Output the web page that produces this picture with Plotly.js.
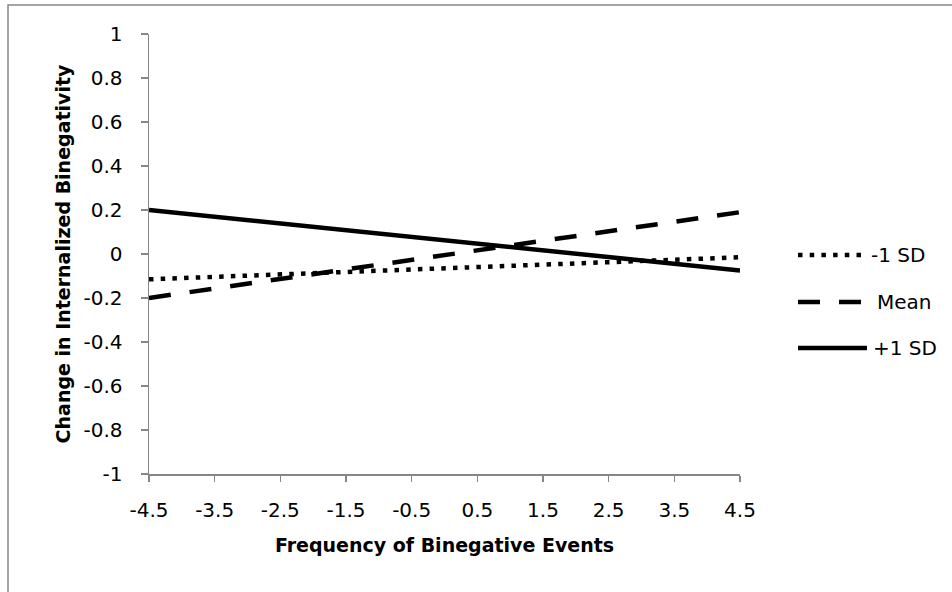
<!DOCTYPE html>
<html>
<head>
<meta charset="utf-8">
<script src="https://cdn.plot.ly/plotly-3.0.1.min.js"></script>
<style>html,body{margin:0;padding:0;background:#fff;}#chart{width:952px;height:592px;}</style>
</head>
<body>
<div id="chart"></div>
<script>
// Data
var seriesNames = ["-1 SD", "Mean", "+1 SD"];
var xVals = [-4.5, 4.5];
var minus1SD = [-0.115, -0.015];
var meanVals = [-0.20, 0.19];
var plus1SD = [0.20, -0.075];
var xTickVals = [-4.5, -3.5, -2.5, -1.5, -0.5, 0.5, 1.5, 2.5, 3.5, 4.5];
var xTickText = ["-4.5", "-3.5", "-2.5", "-1.5", "-0.5", "0.5", "1.5", "2.5", "3.5", "4.5"];
var yTickVals = [-1, -0.8, -0.6, -0.4, -0.2, 0, 0.2, 0.4, 0.6, 0.8, 1];
var yTickText = ["-1", "-0.8", "-0.6", "-0.4", "-0.2", "0", "0.2", "0.4", "0.6", "0.8", "1"];

var FONT = "'DejaVu Sans', sans-serif";
var AXC = "#868686";
var dashes = ["4.5px,7.2px", "22px,19px", "solid"];
var widths = [4.5, 4.5, 4.5];
var ys = [minus1SD, meanVals, plus1SD];

var traces = ys.map(function (y, i) {
  return {
    x: xVals, y: y, name: seriesNames[i], type: "scatter", mode: "lines",
    line: {color: "#000", width: widths[i], dash: dashes[i]},
    showlegend: false, hoverinfo: "skip"
  };
});

// Manual legend (Excel-like long samples)
var L = 149, R = 740, T = 34, B = 474;
function px2x(p) { return (p - L) / (R - L); }
function px2y(p) { return (B - p) / (B - T); }
var legY = [255, 302, 348];
var shapes = [{
  type: "rect", xref: "paper", yref: "paper",
  x0: px2x(8), x1: px2x(1000), y0: px2y(5), y1: px2y(700),
  line: {color: AXC, width: 1.5}, fillcolor: "rgba(0,0,0,0)", layer: "below"
}];
var annotations = [];
seriesNames.forEach(function (n, i) {
  shapes.push({
    type: "line", xref: "paper", yref: "paper",
    x0: px2x(798), x1: px2x(867), y0: px2y(legY[i]), y1: px2y(legY[i]),
    line: {color: "#000", width: widths[i], dash: dashes[i]}
  });
  annotations.push({
    xref: "paper", yref: "paper", x: px2x(i === 0 ? 869 : (i === 1 ? 875 : 871)), y: px2y(legY[i]),
    xanchor: "left", yanchor: "middle", text: n, showarrow: false,
    font: {family: FONT, size: 20, color: "#000"}
  });
});

var layout = {
  width: 952, height: 592,
  margin: {l: L, r: 952 - R, t: T, b: 592 - B, pad: 0},
  paper_bgcolor: "#fff", plot_bgcolor: "#fff",
  font: {family: FONT, size: 20, color: "#000"},
  showlegend: false,
  xaxis: {
    range: [-4.5, 4.5], tickvals: xTickVals, ticktext: xTickText,
    showgrid: false, zeroline: false, showline: true, linecolor: AXC, linewidth: 1.5,
    ticks: "outside", ticklen: 6, tickcolor: AXC, tickwidth: 1.5,
    ticklabelstandoff: 11, automargin: false,
    tickfont: {family: FONT, size: 20, color: "#000"},
    title: {text: "<b>Frequency of Binegative Events</b>", standoff: 18,
            font: {family: FONT, size: 19, color: "#000"}}
  },
  yaxis: {
    range: [-1, 1], tickvals: yTickVals, ticktext: yTickText,
    showgrid: false, zeroline: false, showline: true, linecolor: AXC, linewidth: 1.5,
    ticks: "outside", ticklen: 7, tickcolor: AXC, tickwidth: 1.5,
    ticklabelstandoff: 14, automargin: false,
    tickfont: {family: FONT, size: 20, color: "#000"},
    title: {text: "<b>Change in Internalized Binegativity</b>", standoff: 8,
            font: {family: FONT, size: 19, color: "#000"}}
  },
  shapes: shapes,
  annotations: annotations
};

Plotly.newPlot("chart", traces, layout, {staticPlot: true, displayModeBar: false});
</script>
</body>
</html>
